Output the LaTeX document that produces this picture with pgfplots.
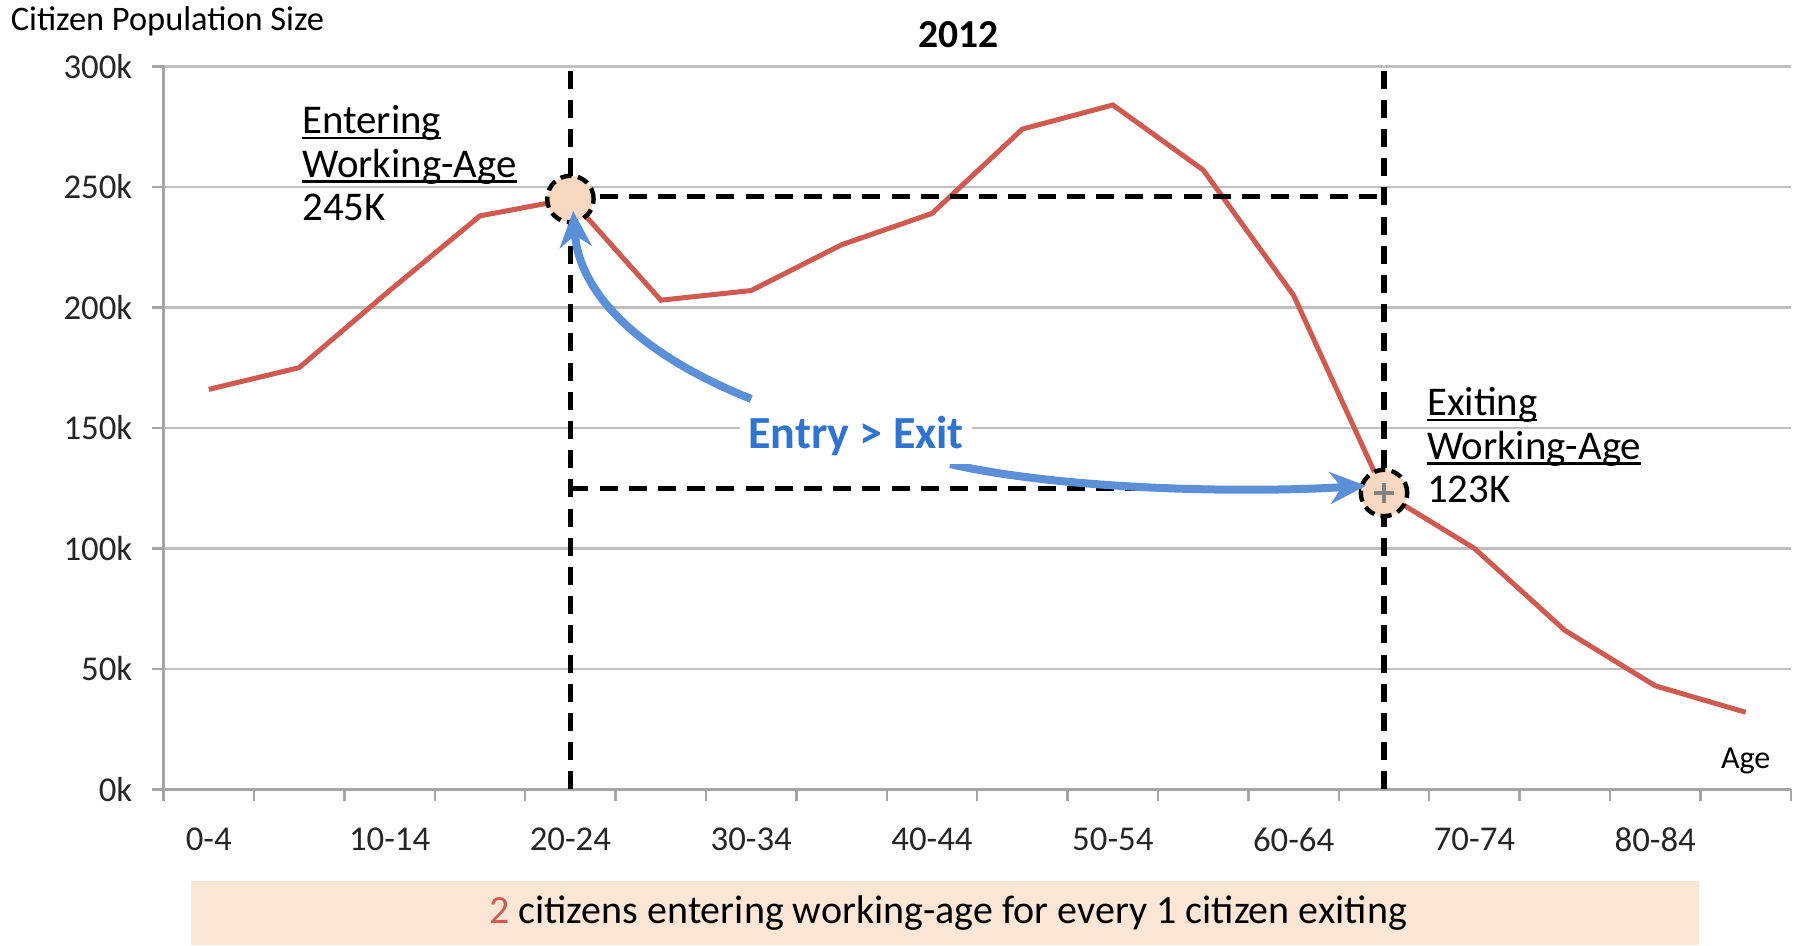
\documentclass[border=0pt]{standalone}
\usepackage{fontspec}
\setmainfont{Carlito}
\usepackage{pgfplots}
\pgfplotsset{compat=1.18}
\usetikzlibrary{arrows.meta}
\definecolor{linered}{HTML}{D05A50}
\definecolor{arrblue}{HTML}{5B8FD8}
\definecolor{txtblue}{HTML}{2F74D0}
\definecolor{peach}{HTML}{FCE6D6}
\definecolor{circfill}{HTML}{F8D8C0}
\definecolor{gridc}{HTML}{BFBFBF}
\definecolor{axc}{HTML}{A6A6A6}
\newcommand\ul[1]{\setbox0\hbox{#1}\rlap{\rule[-1.4pt]{\wd0}{0.7pt}}\box0}
\begin{document}
\begin{tikzpicture}
\useasboundingbox (0,0) rectangle (448.5pt,236.25pt);
\begin{axis}[
  at={(40.9pt,38.9pt)}, anchor=south west,
  width=406.8pt, height=180.75pt, scale only axis,
  xmin=-0.5, xmax=17.5, ymin=0, ymax=300000,
  axis lines*=left,
  axis line style={draw=axc, line width=0.6pt},
  xtick={0,2,...,16},
  xticklabels={0-4,10-14,20-24,30-34,40-44,50-54,60-64,70-74,80-84},
  minor xtick={-0.5,0.5,...,17.5},
  major x tick style={draw=none},
  minor x tick style={draw=axc, line width=0.6pt},
  minor tick length=3pt,
  ytick={0,50000,100000,150000,200000,250000,300000},
  yticklabels={0k,50k,100k,150k,200k,250k,300k},
  y tick style={draw=axc, line width=0.6pt},
  major tick length=3pt,
  tick align=outside,
  scaled y ticks=false,
  ymajorgrids,
  grid style={draw=gridc, line width=0.7pt},
  ticklabel style={font=\fontsize{8.7}{9}\selectfont, text=black!85},
  xticklabel style={yshift=-3pt},
  yticklabel style={xshift=-1.3pt},
  clip=false,
]
\addplot[linered, line width=1.25pt] coordinates {
(0,166000)(1,175000)(2,207000)(3,238000)(4,245000)(5,203000)(6,207000)(7,226000)(8,239000)(9,274000)(10,284000)(11,257000)(12,205000)(13,123000)(14,100000)(15,66000)(16,43000)(17,32000)};
% dashed guides
\draw[black, line width=1.3pt, dash pattern=on 4.5pt off 2.8pt] (axis cs:4,0) -- (axis cs:4,300000);
\draw[black, line width=1.3pt, dash pattern=on 4.5pt off 2.8pt] (axis cs:13,0) -- (axis cs:13,300000);
\draw[black, line width=1.3pt, dash pattern=on 4.5pt off 2.8pt] (axis cs:4,246000) -- (axis cs:13,246000);
\draw[black, line width=1.3pt, dash pattern=on 4.5pt off 2.8pt] (axis cs:4,125000) -- (axis cs:13,125000);
% circles
\draw[black, line width=1.1pt, dash pattern=on 2.8pt off 1.6pt, fill=circfill] (axis cs:4,245000) circle[radius=5.8pt];
\draw[black, line width=1.1pt, dash pattern=on 2.8pt off 1.6pt, fill=circfill] (axis cs:13,123000) circle[radius=5.8pt];
\addplot[only marks, mark=+, mark size=2.5pt, gray, line width=0.8pt] coordinates {(13,123000)};
% labels
\node[anchor=base west, font=\fontsize{10.2}{11}\selectfont] at (axis cs:0.88,272000) {\ul{Entering}};
\node[anchor=base west, font=\fontsize{10.2}{11}\selectfont] at (axis cs:0.88,254000) {\ul{Working-Age}};
\node[anchor=base west, font=\fontsize{10.2}{11}\selectfont] at (axis cs:0.88,236000) {245K};
\node[anchor=base west, font=\fontsize{10.2}{11}\selectfont] at (axis cs:13.32,155000) {\ul{Exiting}};
\node[anchor=base west, font=\fontsize{10.2}{11}\selectfont] at (axis cs:13.32,137000) {\ul{Working-Age}};
\node[anchor=base west, font=\fontsize{10.2}{11}\selectfont] at (axis cs:13.32,119000) {123K};
\node[font=\fontsize{8}{9}\selectfont] at (axis cs:17,12000) {Age};
% arrows
\draw[arrblue, line width=2pt, -{Stealth[length=9pt,width=8pt]}]
  (axis cs:6,162000) .. controls (axis cs:4.8,180000) and (axis cs:4.1,205000) .. (axis cs:4.03,240000);
\draw[arrblue, line width=2pt, -{Stealth[length=9pt,width=8pt]}]
  (axis cs:8.2,135000) .. controls (axis cs:9.5,124000) and (axis cs:11.5,123000) .. (axis cs:12.8,126000);
\node[fill=white, inner sep=2pt, text=txtblue, font=\bfseries\fontsize{11.5}{12}\selectfont] at (axis cs:7.16,146600) {Entry > Exit};
\end{axis}
% outer texts
\node[anchor=west, inner sep=0pt, font=\fontsize{8.6}{9}\selectfont] at (2.5pt,231pt) {Citizen Population Size};
\node[font=\bfseries\fontsize{9.9}{10}\selectfont] at (239.7pt,227.7pt) {2012};
\fill[peach] (47.8pt,0pt) rectangle (424.8pt,16pt);
\node[font=\fontsize{10}{11}\selectfont] at (237pt,8pt) {\textcolor{linered}{2} citizens entering working-age for every 1 citizen exiting};
\end{tikzpicture}
\end{document}
